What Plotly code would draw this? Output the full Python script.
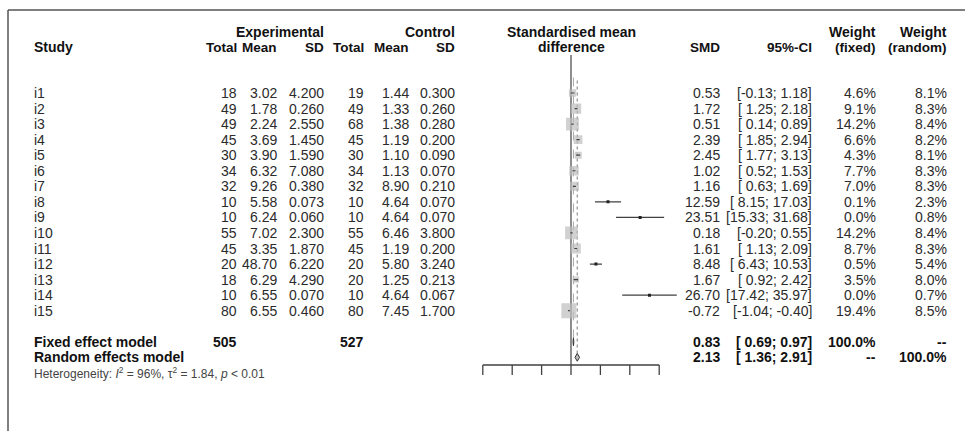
import math
import plotly.graph_objects as go

# ---------------- data ----------------
study = ["i1", "i2", "i3", "i4", "i5", "i6", "i7", "i8", "i9", "i10", "i11", "i12", "i13", "i14", "i15"]
n_e = [18, 49, 49, 45, 30, 34, 32, 10, 10, 55, 45, 20, 18, 10, 80]
mean_e = [3.02, 1.78, 2.24, 3.69, 3.90, 6.32, 9.26, 5.58, 6.24, 7.02, 3.35, 48.70, 6.29, 6.55, 6.55]
sd_e = [4.200, 0.260, 2.550, 1.450, 1.590, 7.080, 0.380, 0.073, 0.060, 2.300, 1.870, 6.220, 4.290, 0.070, 0.460]
n_c = [19, 49, 68, 45, 30, 34, 32, 10, 10, 55, 45, 20, 20, 10, 80]
mean_c = [1.44, 1.33, 1.38, 1.19, 1.10, 1.13, 8.90, 4.64, 4.64, 6.46, 1.19, 5.80, 1.25, 4.64, 7.45]
sd_c = [0.300, 0.260, 0.280, 0.200, 0.090, 0.070, 0.210, 0.070, 0.070, 3.800, 0.200, 3.240, 0.213, 0.067, 1.700]
smd = [0.53, 1.72, 0.51, 2.39, 2.45, 1.02, 1.16, 12.59, 23.51, 0.18, 1.61, 8.48, 1.67, 26.70, -0.72]
ci_lo = [-0.13, 1.25, 0.14, 1.85, 1.77, 0.52, 0.63, 8.15, 15.33, -0.20, 1.13, 6.43, 0.92, 17.42, -1.04]
ci_hi = [1.18, 2.18, 0.89, 2.94, 3.13, 1.53, 1.69, 17.03, 31.68, 0.55, 2.09, 10.53, 2.42, 35.97, -0.40]
w_fixed = [4.6, 9.1, 14.2, 6.6, 4.3, 7.7, 7.0, 0.1, 0.0, 14.2, 8.7, 0.5, 3.5, 0.0, 19.4]
w_random = [8.1, 8.3, 8.4, 8.2, 8.1, 8.3, 8.3, 2.3, 0.8, 8.4, 8.3, 5.4, 8.0, 0.7, 8.5]

total_e = 505
total_c = 527
fixed_est, fixed_lo, fixed_hi = 0.83, 0.69, 0.97
random_est, random_lo, random_hi = 2.13, 1.36, 2.91
i2_het, tau2_het = 96, 1.84
axis_ticks = [-30, -20, -10, 0, 10, 20, 30]

# ---------------- layout geometry ----------------
W, H = 965, 431
ROW0_PX, ROW_PX = 93.0, 15.55


def row_of(px):
    return 1 + (px - ROW0_PX) / ROW_PX


def xp(px):
    return px / W


ZERO_PX, PX_PER_UNIT = 571.0, 2.94
XMIN, XMAX = -34, 40
x_domain = [(ZERO_PX + XMIN * PX_PER_UNIT) / W, (ZERO_PX + XMAX * PX_PER_UNIT) / W]

rows = list(range(1, len(study) + 1))
ROW_FIXED = len(study) + 2
ROW_RANDOM = ROW_FIXED + 1
ROW_HET = ROW_RANDOM + 1
ROW_AXIS = row_of(365)
ROW_TICK = row_of(375)

FONT = "Liberation Sans, Arial, sans-serif"
TXT = "#2b2b2b"
HDR = "#111111"
GREY = "#bdbdbd"
FS = 14

fig = go.Figure()

# reference lines
fig.add_trace(go.Scatter(x=[0, 0], y=[row_of(55), ROW_AXIS], mode="lines",
                         line=dict(color="#7a7a7a", width=1.7), hoverinfo="skip"))
fig.add_trace(go.Scatter(x=[fixed_est, fixed_est], y=[0, ROW_FIXED], mode="lines",
                         line=dict(color="#a8a8a8", width=1, dash="dash"), hoverinfo="skip"))
fig.add_trace(go.Scatter(x=[random_est, random_est], y=[0.2, ROW_RANDOM], mode="lines",
                         line=dict(color="#909090", width=1.2, dash="dot"), hoverinfo="skip"))

# squares sized by fixed weight
wmax = max(w_fixed)
sizes = [15 * math.sqrt(w / wmax) for w in w_fixed]
fig.add_trace(go.Scatter(x=smd, y=rows, mode="markers",
                         marker=dict(symbol="square", size=sizes, color=GREY, line=dict(width=0)),
                         hoverinfo="skip"))

# confidence intervals
cx, cy = [], []
for lo, hi, r in zip(ci_lo, ci_hi, rows):
    cx += [lo, hi, None]
    cy += [r, r, None]
fig.add_trace(go.Scatter(x=cx, y=cy, mode="lines", line=dict(color="#404040", width=1.2),
                         hoverinfo="skip"))
# point markers for studies with tiny squares
small_x = [s for s, z in zip(smd, sizes) if z < 3]
small_y = [r for r, z in zip(rows, sizes) if z < 3]
fig.add_trace(go.Scatter(x=small_x, y=small_y, mode="markers",
                         marker=dict(symbol="square", size=3, color="#222"), hoverinfo="skip"))

# diamonds
for est, lo, hi, r in [(fixed_est, fixed_lo, fixed_hi, ROW_FIXED),
                       (random_est, random_lo, random_hi, ROW_RANDOM)]:
    fig.add_trace(go.Scatter(x=[lo, est, hi, est, lo], y=[r, r - 0.25, r, r + 0.25, r],
                             mode="lines", fill="toself", fillcolor=GREY,
                             line=dict(color="#333", width=1), hoverinfo="skip"))

# x axis line and ticks
ax_x = [axis_ticks[0], axis_ticks[-1], None]
ax_y = [ROW_AXIS, ROW_AXIS, None]
for t in axis_ticks:
    ax_x += [t, t, None]
    ax_y += [ROW_AXIS, ROW_TICK, None]
fig.add_trace(go.Scatter(x=ax_x, y=ax_y, mode="lines", line=dict(color="#404040", width=1.3),
                         hoverinfo="skip"))

# ---------------- text ----------------
ann = []


def txt(px, row, s, anchor="right", bold=False, size=FS, color=TXT):
    if bold:
        s = "<b>" + s + "</b>"
    ann.append(dict(x=xp(px), y=row, xref="paper", yref="y", text=s, showarrow=False,
                    xanchor=anchor, yanchor="middle", borderpad=0,
                    font=dict(family=FONT, size=size, color=color)))


HDR1, HDR2 = row_of(32), row_of(47)
C_STUDY = 33
C_NE, C_ME, C_SE, C_NC, C_MC, C_SC = 238, 278, 325, 365, 410, 456
C_SMD, C_CI, C_WF, C_WR = 721, 813, 877, 948

txt(C_SE, HDR1, "Experimental", bold=True, color=HDR)
txt(C_SC, HDR1, "Control", bold=True, color=HDR)
txt(C_STUDY, HDR2, "Study", anchor="left", bold=True, color=HDR)
for c, s in [(C_NE, "Total"), (C_ME, "Mean"), (C_SE, "SD"), (C_NC, "Total"), (C_MC, "Mean"), (C_SC, "SD"),
             (C_SMD, "SMD"), (C_CI, "95%-CI"), (C_WF, "(fixed)"), (C_WR, "(random)")]:
    txt(c, HDR2, s, bold=True, color=HDR, size=13.5)
txt(C_WF, HDR1, "Weight", bold=True, color=HDR)
txt(C_WR, HDR1, "Weight", bold=True, color=HDR)
txt(ZERO_PX, HDR1, "Standardised mean", anchor="center", bold=True, color=HDR)
txt(ZERO_PX, HDR2, "difference", anchor="center", bold=True, color=HDR)


def ci_str(lo, hi):
    return "[" + ("%5.2f" % lo) + "; " + ("%.2f" % hi) + "]"


for i, r in enumerate(rows):
    txt(C_STUDY, r, study[i], anchor="left")
    txt(C_NE, r, str(n_e[i]))
    txt(C_ME, r, "%.2f" % mean_e[i])
    txt(C_SE, r, "%.3f" % sd_e[i])
    txt(C_NC, r, str(n_c[i]))
    txt(C_MC, r, "%.2f" % mean_c[i])
    txt(C_SC, r, "%.3f" % sd_c[i])
    txt(C_SMD, r, "%.2f" % smd[i])
    txt(C_CI, r, ci_str(ci_lo[i], ci_hi[i]))
    txt(C_WF, r, "%.1f%%" % w_fixed[i])
    txt(C_WR, r, "%.1f%%" % w_random[i])

txt(C_STUDY, ROW_FIXED, "Fixed effect model", anchor="left", bold=True, color=HDR)
txt(C_NE, ROW_FIXED, str(total_e), bold=True, color=HDR)
txt(C_NC, ROW_FIXED, str(total_c), bold=True, color=HDR)
txt(C_SMD, ROW_FIXED, "%.2f" % fixed_est, bold=True, color=HDR)
txt(C_CI, ROW_FIXED, ci_str(fixed_lo, fixed_hi), bold=True, color=HDR)
txt(C_WF, ROW_FIXED, "100.0%", bold=True, color=HDR)
txt(C_WR, ROW_FIXED, "--", bold=True, color=HDR)

txt(C_STUDY, ROW_RANDOM, "Random effects model", anchor="left", bold=True, color=HDR)
txt(C_SMD, ROW_RANDOM, "%.2f" % random_est, bold=True, color=HDR)
txt(C_CI, ROW_RANDOM, ci_str(random_lo, random_hi), bold=True, color=HDR)
txt(C_WF, ROW_RANDOM, "--", bold=True, color=HDR)
txt(C_WR, ROW_RANDOM, "100.0%", bold=True, color=HDR)

txt(C_STUDY, ROW_HET,
    "Heterogeneity: <i>I</i><sup>2</sup> = %d%%, τ<sup>2</sup> = %.2f, <i>p</i> &lt; 0.01" % (i2_het, tau2_het),
    anchor="left", size=12, color="#444")

# frame
shapes = [
    dict(type="line", xref="paper", yref="paper", x0=xp(8), x1=1, y0=1 - 10 / H, y1=1 - 10 / H,
         line=dict(color="#555", width=1.5)),
    dict(type="line", xref="paper", yref="paper", x0=xp(8), x1=xp(8), y0=0, y1=1 - 10 / H,
         line=dict(color="#555", width=1.5)),
]

fig.update_layout(
    width=W, height=H, margin=dict(l=0, r=0, t=0, b=0),
    paper_bgcolor="white", plot_bgcolor="rgba(0,0,0,0)",
    showlegend=False, annotations=ann, shapes=shapes,
    xaxis=dict(domain=x_domain, range=[XMIN, XMAX], visible=False, fixedrange=True),
    yaxis=dict(domain=[0, 1], range=[row_of(H), row_of(0)], visible=False, fixedrange=True),
)

fig.write_html("out.html", config={"displayModeBar": False, "staticPlot": True},
               post_script="document.body.style.margin='0px';")
